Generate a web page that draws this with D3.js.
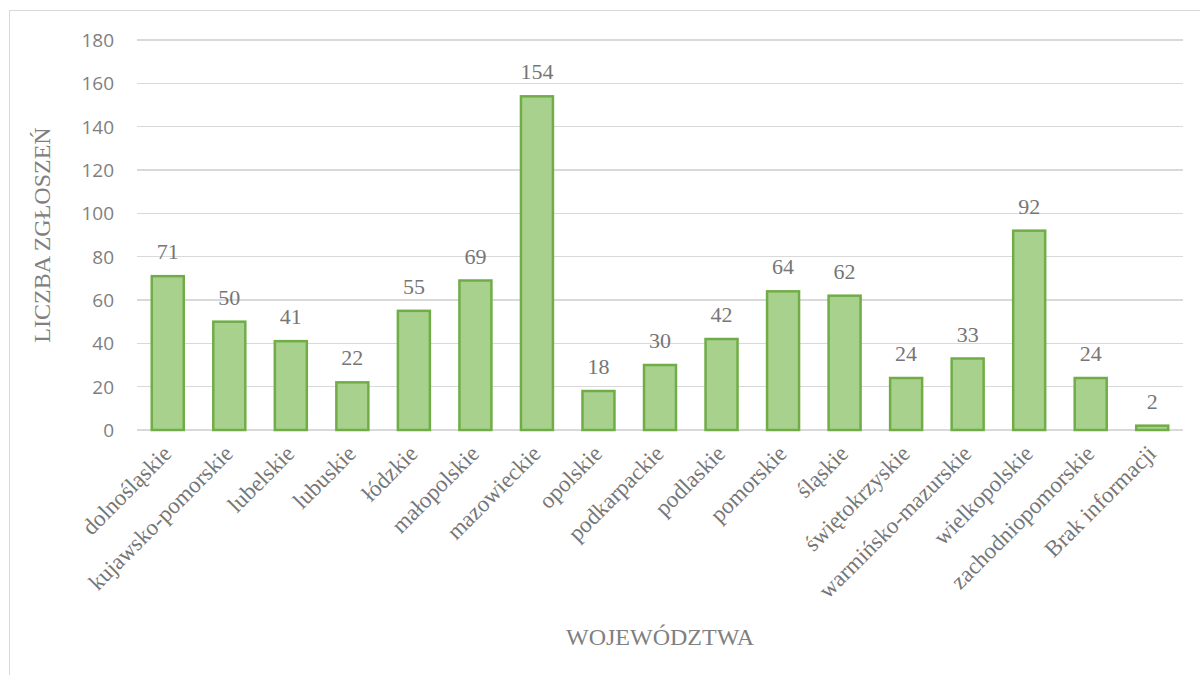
<!DOCTYPE html>
<html lang="pl">
<meta charset="utf-8">
<style>
body { margin: 0; background: #fff; }
.grid line { stroke: #d9d9d9; stroke-width: 1.3; shape-rendering: crispEdges; }
.bar { fill: #a9d18e; stroke: #70ad47; stroke-width: 2.5; }
</style>
<body>
<svg width="1200" height="675"></svg>
<script src="https://d3js.org/d3.v7.min.js"></script>
<script>

var categories = ["dolnośląskie", "kujawsko-pomorskie", "lubelskie", "lubuskie", "łódzkie",
  "małopolskie", "mazowieckie", "opolskie", "podkarpackie", "podlaskie", "pomorskie",
  "śląskie", "świętokrzyskie", "warmińsko-mazurskie", "wielkopolskie",
  "zachodniopomorskie", "Brak informacji"];
var values = [71, 50, 41, 22, 55, 69, 154, 18, 30, 42, 64, 62, 24, 33, 92, 24, 2];
var yTicks = [0, 20, 40, 60, 80, 100, 120, 140, 160, 180];

var serif = "'Liberation Serif', 'Times New Roman', serif",
    sans = "'Open Sans', 'Noto Sans', sans-serif";

var svg = d3.select("svg");

// chart frame
svg.append("rect")
    .attr("x", 9.5).attr("y", 10.5)
    .attr("width", 1200).attr("height", 700)
    .attr("fill", "none")
    .attr("stroke", "#d9d9d9");

var x = d3.scaleBand()
    .domain(categories)
    .range([137, 1183])
    .paddingInner(0.48)
    .paddingOuter(0.24);

var y = d3.scaleLinear()
    .domain([0, 180])
    .range([430, 40]);

var grid = svg.append("g").attr("class", "grid");
grid.selectAll("line")
  .data(yTicks)
  .enter().append("line")
    .attr("x1", 137).attr("x2", 1183)
    .attr("y1", function(d) { return y(d); })
    .attr("y2", function(d) { return y(d); });

svg.append("g").selectAll("text")
  .data(yTicks)
  .enter().append("text")
    .attr("x", 114)
    .attr("y", function(d) { return y(d); })
    .attr("dy", "0.36em")
    .attr("text-anchor", "end")
    .attr("font-family", sans)
    .attr("font-size", 19)
    .attr("fill", "#7f7f7f")
    .text(function(d) { return d; });

svg.append("g").selectAll("rect")
  .data(values)
  .enter().append("rect")
    .attr("class", "bar")
    .attr("x", function(d, i) { return x(categories[i]); })
    .attr("width", x.bandwidth())
    .attr("y", function(d) { return y(d); })
    .attr("height", function(d) { return y(0) - y(d); });

svg.append("g").selectAll("text")
  .data(values)
  .enter().append("text")
    .attr("x", function(d, i) { return x(categories[i]) + x.bandwidth() / 2; })
    .attr("y", function(d) { return y(d) - 17; })
    .attr("text-anchor", "middle")
    .attr("font-family", serif)
    .attr("font-size", 22)
    .attr("fill", "#767676")
    .text(function(d) { return d; });

svg.append("g").selectAll("text")
  .data(categories)
  .enter().append("text")
    .attr("text-anchor", "end")
    .attr("font-family", serif)
    .attr("font-size", 23)
    .attr("fill", "#767676")
    .attr("transform", function(d) {
      return "translate(" + (x(d) + x.bandwidth() / 2 + 5) + ",455) rotate(-45)";
    })
    .text(function(d) { return d; });

svg.append("text")
    .attr("x", 660).attr("y", 645)
    .attr("text-anchor", "middle")
    .attr("font-family", serif)
    .attr("font-size", 24)
    .attr("fill", "#808080")
    .text("WOJEWÓDZTWA");

svg.append("text")
    .attr("transform", "translate(50,235) rotate(-90)")
    .attr("text-anchor", "middle")
    .attr("font-family", serif)
    .attr("font-size", 24)
    .attr("fill", "#808080")
    .text("LICZBA ZGŁOSZEŃ");

</script>
</body>
</html>
